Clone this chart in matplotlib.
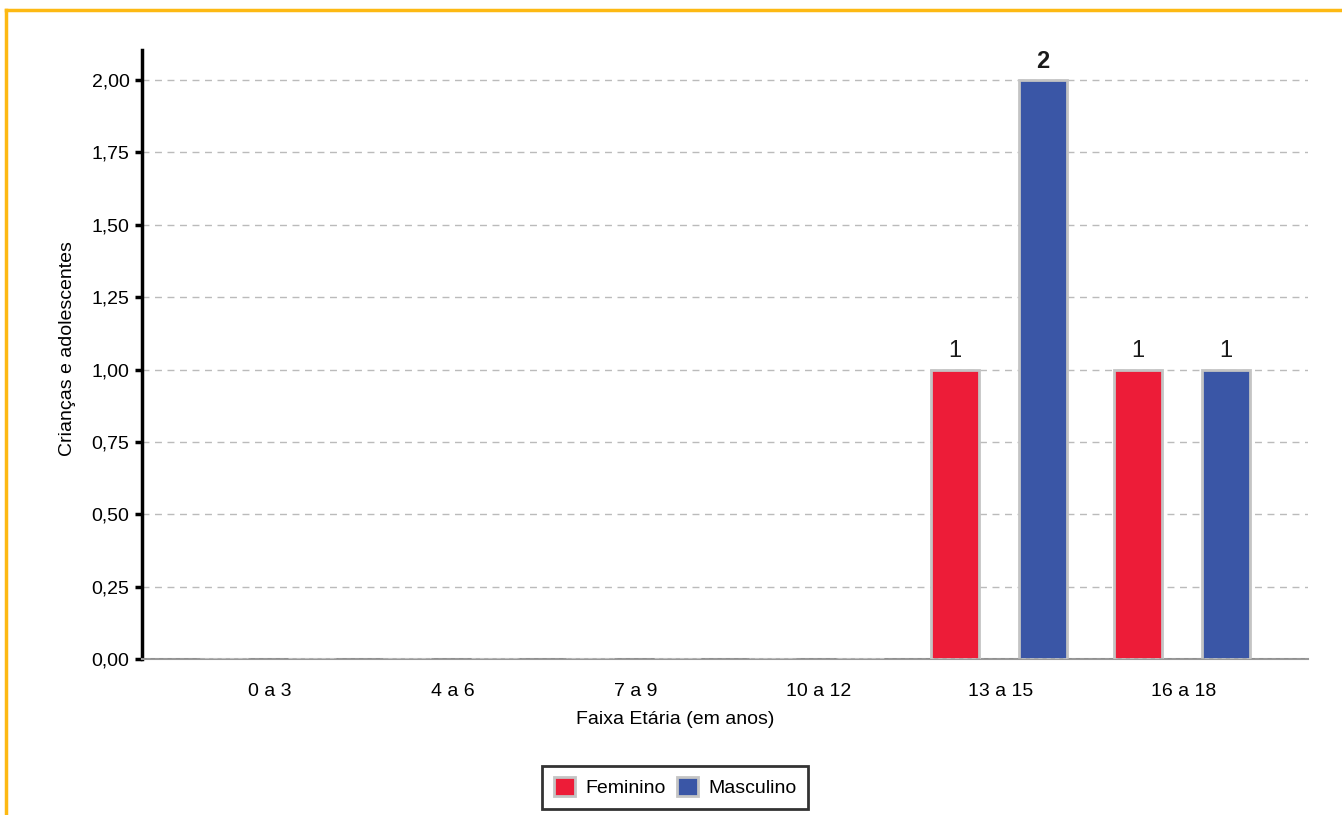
import numpy as np
import matplotlib.pyplot as plt
from matplotlib.ticker import FuncFormatter
from matplotlib.lines import Line2D

plt.rcParams['font.family'] = ['Liberation Sans', 'DejaVu Sans']

faixas = ['0 a 3', '4 a 6', '7 a 9', '10 a 12', '13 a 15', '16 a 18']
feminino = [0, 0, 0, 0, 1, 1]
masculino = [0, 0, 0, 0, 2, 1]

fig = plt.figure(figsize=(13.42, 8.15), dpi=100)
ax = fig.add_axes([0.1058, 0.1914, 0.8689, 0.7473])

x = np.arange(len(faixas))
w = 0.262
b1 = ax.bar(x - 0.25, feminino, w, color='#ED1C38', edgecolor='#c4c4c4', linewidth=2, label='Feminino', zorder=3)
b2 = ax.bar(x + 0.23, masculino, w, color='#3A56A6', edgecolor='#c4c4c4', linewidth=2, label='Masculino', zorder=3)

for bars, vals in ((b1, feminino), (b2, masculino)):
    for r, v in zip(bars, vals):
        if v > 0:
            ax.text(r.get_x() + r.get_width() / 2, v + 0.025, str(v), ha='center', va='bottom',
                    fontsize=17, fontweight='bold' if v == 2 else 'normal', color='#1a1a1a')

ax.set_xlim(-0.70, 5.68)
ax.set_ylim(0, 2.104)
ax.set_yticks(np.arange(0, 2.01, 0.25))
ax.yaxis.set_major_formatter(FuncFormatter(lambda v, p: f'{v:.2f}'.replace('.', ',')))
ax.set_xticks(x)
ax.set_xticklabels(faixas)
ax.tick_params(axis='x', length=0, pad=17, labelsize=14)
ax.tick_params(axis='y', length=5, width=2.5, color='black', labelsize=14, pad=4)

ax.grid(axis='y', linestyle=(0, (5, 4)), color='#bbbbbb', linewidth=1, zorder=0)
for s in ['top', 'right']:
    ax.spines[s].set_visible(False)
ax.spines['left'].set_linewidth(2.5)
ax.spines['left'].set_color('black')
ax.spines['bottom'].set_color('#999999')
ax.spines['bottom'].set_linewidth(1.5)
ax.axhline(0, color='#666666', linestyle=(0, (3, 3)), linewidth=1, zorder=4)

ax.set_ylabel('Crianças e adolescentes', fontsize=14)
ax.yaxis.set_label_coords(-0.057, 0.51)
ax.set_xlabel('Faixa Etária (em anos)', fontsize=14)
ax.xaxis.set_label_coords(0.457, -0.085)

leg = fig.legend(handles=[b1, b2], loc='center', bbox_to_anchor=(0.503, 0.034), ncol=2,
                 fontsize=14, frameon=True, fancybox=False, handlelength=1.1, handleheight=1.1,
                 columnspacing=0.6, handletextpad=0.5, borderpad=0.6)
leg.get_frame().set_edgecolor('black')
leg.get_frame().set_linewidth(2)

# moldura laranja
fig.add_artist(Line2D([6 / 1342, 1], [1 - 10 / 815, 1 - 10 / 815], color='#FDB913', linewidth=2.5, transform=fig.transFigure))
fig.add_artist(Line2D([6 / 1342, 6 / 1342], [0, 1 - 10 / 815], color='#FDB913', linewidth=2.5, transform=fig.transFigure))

fig.savefig('out.png', dpi=100)
